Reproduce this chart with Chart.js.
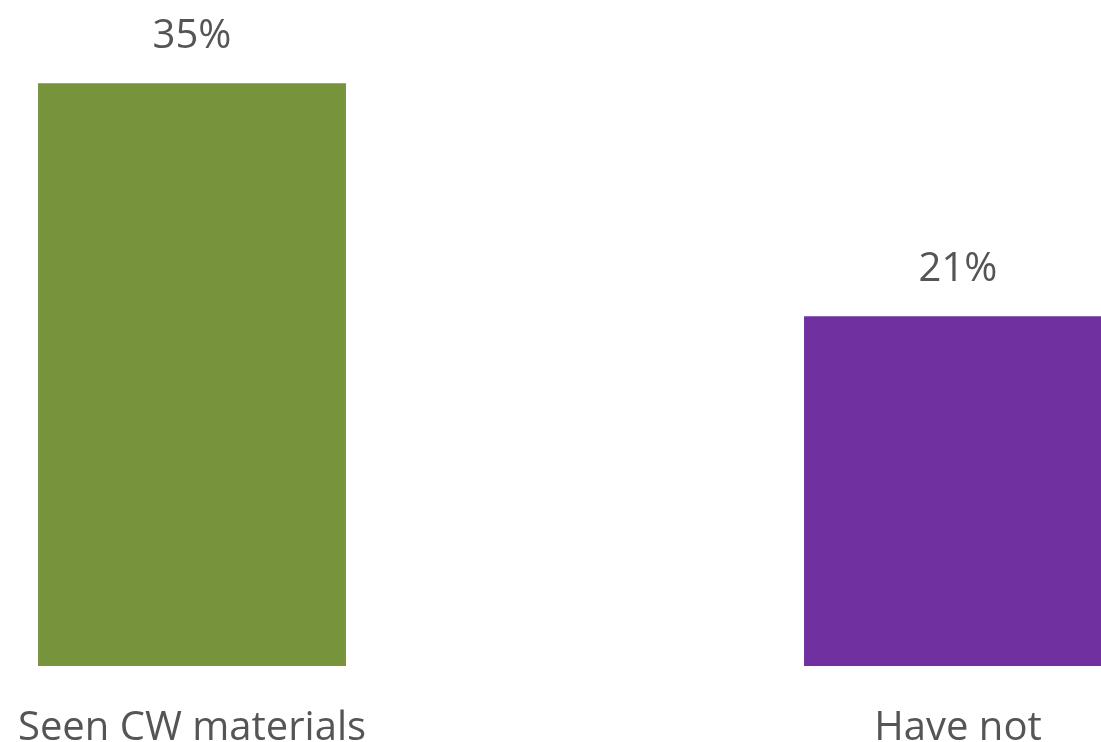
<!DOCTYPE html>
<html>
<head>
<meta charset="utf-8">
<script src="https://cdn.jsdelivr.net/npm/chart.js@4/dist/chart.umd.min.js"></script>
<style>
  html, body { margin: 0; padding: 0; background: #ffffff; }
  #canvasContainer { position: relative; width: 1101px; height: 742px; overflow: hidden; }
  #Grafica { position: absolute; left: -191px; top: 0; }
</style>
</head>
<body>
<div id="canvasContainer">
  <canvas id="Grafica" width="1532" height="742"></canvas>
</div>
<script>
const categories = ['Seen CW materials', 'Have not'];
const shares = [35, 21];
const barColors = ['#77933C', '#7030A0'];

const textColor = '#555555';
const fontFamily = '"Open Sans", sans-serif';

// writes "NN%" above each bar
const valueLabels = {
    id: 'valueLabels',
    afterDatasetsDraw(chart) {
        const ctx = chart.ctx;
        const meta = chart.getDatasetMeta(0);
        ctx.save();
        ctx.font = '40px ' + fontFamily;
        ctx.fillStyle = textColor;
        ctx.textAlign = 'center';
        ctx.textBaseline = 'alphabetic';
        meta.data.forEach((bar, i) => {
            ctx.fillText(shares[i] + '%', bar.x, bar.y - 35);
        });
        ctx.restore();
    }
};

function getChart(){
    return document.getElementById('Grafica');
}

let config = {
    'type': 'bar',
    'data': {
        'labels': categories,
        'datasets': [
            {
                'data': shares,
                'backgroundColor': barColors,
                'borderWidth': 0,
                'categoryPercentage': 1,
                'barPercentage': 0.402
            }
        ]
    },
    'options': {
        'responsive': false,
        'animation': false,
        'layout': { 'padding': 0 },
        'plugins': {
            'legend': { 'display': false },
            'tooltip': { 'enabled': false }
        },
        'scales': {
            'x': {
                'grid': { 'display': false, 'drawTicks': false },
                'border': { 'display': false },
                'ticks': {
                    'color': textColor,
                    'font': { 'family': '"Open Sans", sans-serif', 'size': 40 },
                    'padding': 39
                },
                'afterFit': function(scale){ scale.height = 76; }
            },
            'y': {
                'display': false,
                'min': 0,
                'max': 40
            }
        }
    },
    'plugins': [valueLabels]
};

new Chart(getChart().getContext('2d'), config);
</script>
</body>
</html>
